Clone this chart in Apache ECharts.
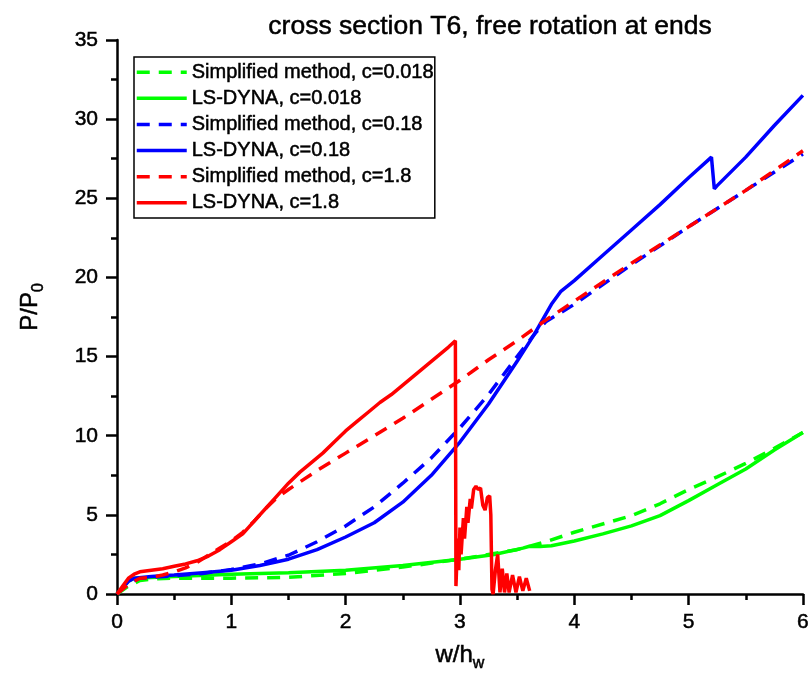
<!DOCTYPE html>
<html>
<head>
<meta charset="utf-8">
<script src="https://cdn.jsdelivr.net/npm/echarts@6/dist/echarts.min.js"></script>
<style>
  html, body { margin: 0; padding: 0; background: #fff; }
  #main { width: 812px; height: 679px; }
</style>
</head>
<body>
<div id="main"></div>
<script>
// values, [w/hw, P/P0]
var greenSimple = [[0,0],[0.1,0.5],[0.2,0.85],[0.3,0.95],[0.5,1.0],[1.0,1.0],[1.5,1.05],[2.0,1.3],[2.25,1.5],[2.5,1.7],[3.0,2.2],[3.5,2.8],[3.75,3.3],[4.0,3.9],[4.5,4.95],[4.75,5.7],[5.0,6.6],[5.25,7.4],[5.5,8.25],[5.75,9.2],[6.0,10.2]];
var greenDyna = [[0,0],[0.05,0.4],[0.1,0.8],[0.15,1.0],[0.3,1.05],[0.5,1.1],[1.0,1.25],[1.5,1.35],[2.0,1.5],[2.5,1.8],[3.0,2.2],[3.3,2.5],[3.55,2.9],[3.6,3.0],[3.7,3.0],[3.8,3.05],[4.0,3.35],[4.25,3.8],[4.5,4.3],[4.75,4.95],[5.0,5.9],[5.25,6.9],[5.5,7.9],[5.75,9.1],[6.0,10.2]];
var blueSimple = [[0,0],[0.1,0.7],[0.2,1.0],[0.5,1.15],[0.75,1.3],[1.0,1.55],[1.25,1.9],[1.5,2.45],[1.75,3.3],[2.0,4.3],[2.25,5.5],[2.5,7.0],[2.75,8.6],[3.0,10.5],[3.25,12.6],[3.5,15.0],[3.65,16.4],[3.75,17.2],[4.0,18.3],[4.5,20.8],[5.0,23.2],[5.5,25.5],[6.0,27.8]];
var blueDyna = [[0,0],[0.05,0.4],[0.1,0.8],[0.15,1.0],[0.3,1.1],[0.5,1.2],[0.75,1.35],[1.0,1.5],[1.25,1.8],[1.5,2.2],[1.75,2.8],[2.0,3.6],[2.25,4.5],[2.5,5.8],[2.75,7.5],[3.0,9.6],[3.25,12.0],[3.5,14.7],[3.65,16.4],[3.8,18.3],[3.88,19.1],[4.0,19.8],[4.25,21.4],[4.5,23.0],[4.75,24.6],[5.0,26.3],[5.2,27.6],[5.225,25.6],[5.25,25.8],[5.5,27.6],[5.75,29.6],[6.0,31.5]];
var redSimple = [[0,0],[0.1,0.6],[0.2,1.0],[0.3,1.05],[0.4,1.2],[0.5,1.4],[0.6,1.65],[0.7,2.0],[0.8,2.45],[0.9,2.9],[1.0,3.35],[1.1,3.9],[1.2,4.6],[1.3,5.4],[1.4,6.1],[1.5,6.6],[1.75,7.8],[2.0,8.9],[2.25,10.0],[2.5,11.1],[2.75,12.3],[3.0,13.5],[3.25,14.8],[3.5,16.0],[3.75,17.3],[4.0,18.5],[4.5,20.9],[5.0,23.2],[5.5,25.5],[6.0,28.0]];
var redDyna = [[0,0],[0.05,0.5],[0.1,1.0],[0.15,1.25],[0.2,1.4],[0.3,1.5],[0.4,1.6],[0.5,1.75],[0.6,1.9],[0.7,2.1],[0.8,2.4],[0.9,2.8],[1.0,3.3],[1.1,3.8],[1.2,4.6],[1.3,5.4],[1.4,6.2],[1.5,7.0],[1.6,7.7],[1.7,8.3],[1.8,8.9],[1.9,9.6],[2.0,10.3],[2.1,10.9],[2.2,11.5],[2.3,12.1],[2.4,12.6],[2.5,13.2],[2.6,13.8],[2.7,14.4],[2.8,15.0],[2.9,15.6],[2.96,16.0],[2.965,0.5],[2.98,3.5],[2.99,1.5],[3.0,4.2],[3.01,2.5],[3.03,4.8],[3.04,3.5],[3.06,5.5],[3.07,4.5],[3.09,6.0],[3.1,5.4],[3.12,6.6],[3.14,6.8],[3.16,6.6],[3.18,6.7],[3.2,5.6],[3.22,5.3],[3.24,6.1],[3.26,6.2],[3.27,5.0],[3.28,0.3],[3.29,0.0],[3.31,1.5],[3.33,2.5],[3.35,0.1],[3.37,1.6],[3.39,0.1],[3.41,1.3],[3.43,0.1],[3.46,1.2],[3.49,0.1],[3.52,1.1],[3.55,0.2],[3.58,1.0],[3.61,0.2]];

var names = ['Simplified method, c=0.018', 'LS-DYNA, c=0.018', 'Simplified method, c=0.18', 'LS-DYNA, c=0.18', 'Simplified method, c=1.8', 'LS-DYNA, c=1.8'];
var colors = ['#00ff00', '#00ff00', '#0000ff', '#0000ff', '#ff0000', '#ff0000'];
var dashed = [true, false, true, false, true, false];
var datas = [greenSimple, greenDyna, blueSimple, blueDyna, redSimple, redDyna];

var font = "'Liberation Sans', Arial, sans-serif";
var myChart = echarts.init(document.getElementById('main'));

var series = [];
for (var i = 0; i < datas.length; i++) {
    series.push({
        name: names[i],
        type: 'line',
        data: datas[i],
        symbol: 'none',
        animation: false,
        lineStyle: { color: colors[i], width: 3.5, type: dashed[i] ? [13, 9] : 'solid' },
        itemStyle: { color: colors[i] }
    });
}

// a thin outline makes the text a little heavier, as in the original
var ink = { color: '#000', fontFamily: font, textBorderColor: '#000', textBorderWidth: 0.5 };

var axisCommon = {
    axisLine: { lineStyle: { color: '#000', width: 2.5 } },
    axisTick: { length: 11, lineStyle: { color: '#000', width: 2.5 } },
    minorTick: { show: true, splitNumber: 2, length: 6, lineStyle: { color: '#000', width: 2.5 } },
    splitLine: { show: false }
};

var nameRich = {
    a: Object.assign({ fontSize: 24, lineHeight: 34 }, ink),
    s: Object.assign({ fontSize: 16, lineHeight: 14, verticalAlign: 'bottom' }, ink)
};

var option = {
    backgroundColor: '#fff',
    title: {
        text: 'cross section T6, free rotation at ends',
        left: 485,
        top: 8,
        textAlign: 'center',
        textStyle: Object.assign({ fontSize: 26.5, fontWeight: 'normal' }, ink)
    },
    legend: {
        orient: 'vertical',
        left: 134,
        top: 57,
        itemWidth: 50,
        itemHeight: 18,
        itemGap: 5.6,
        padding: [5, 1, 5, 1],
        borderColor: '#000',
        borderWidth: 1.5,
        itemStyle: { opacity: 0 },
        lineStyle: { width: 3.5 },
        textStyle: Object.assign({ fontSize: 20 }, ink),
        data: names
    },
    grid: { left: 117, right: 9, top: 40, bottom: 85 },
    xAxis: Object.assign({
        type: 'value', min: 0, max: 6, interval: 1,
        name: '{a|w/h}{s|w}', nameLocation: 'middle', nameGap: 44,
        nameTextStyle: { rich: nameRich },
        axisLabel: Object.assign({ fontSize: 21, margin: 18 }, ink)
    }, axisCommon),
    yAxis: Object.assign({
        type: 'value', min: 0, max: 35, interval: 5,
        name: '{a|P/P}{s|0}', nameLocation: 'middle', nameGap: 70,
        nameTextStyle: { rich: nameRich, padding: [0, 0, 0, 20] },
        axisLabel: Object.assign({ fontSize: 21, margin: 19 }, ink)
    }, axisCommon),
    series: series
};

myChart.setOption(option);
</script>
</body>
</html>
